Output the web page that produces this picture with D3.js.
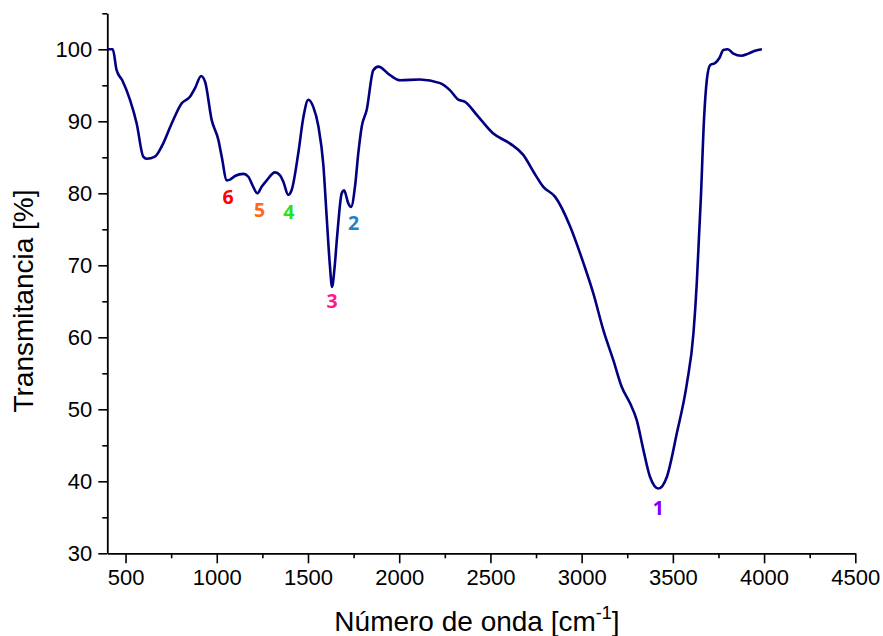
<!DOCTYPE html>
<html>
<head>
<meta charset="utf-8">
<script src="https://cdn.jsdelivr.net/npm/d3@7"></script>
<style>
  html, body { margin: 0; padding: 0; background: #ffffff; }
  svg { display: block; }
  text { font-family: "Liberation Sans", Arial, sans-serif; fill: #000; }
</style>
</head>
<body>
<svg id="chart" width="883" height="636"></svg>
<script>
// FTIR spectrum: wavenumber (cm-1) and transmittance (%)
const wavenumber = [
  400, 430, 451, 482, 524, 561, 597, 616, 661, 698, 753, 808, 853, 881, 914, 936,
  972, 1009, 1027, 1055, 1073, 1100, 1146, 1173, 1200, 1222, 1246, 1274, 1319, 1347,
  1365, 1392, 1411, 1447, 1475, 1502, 1529, 1557, 1584, 1603, 1620, 1632, 1645, 1661,
  1685, 1698, 1721, 1736, 1758, 1776, 1795, 1822, 1858, 1886, 1950, 2005, 2114, 2224,
  2279, 2324, 2361, 2425, 2516, 2608, 2681, 2736, 2790, 2855, 2937, 3010, 3064, 3119,
  3174, 3220, 3266, 3302, 3339, 3375, 3421, 3467, 3522, 3577, 3613, 3631, 3644, 3653,
  3671, 3686, 3704, 3732, 3755, 3777, 3801, 3832, 3874, 3914, 3951, 3988
];
const transmittance = [
  100.0, 100.0, 97.1, 95.7, 93.0, 89.7, 85.1, 84.8, 85.1, 86.5, 89.7, 92.5, 93.4, 94.6, 96.3, 95.5,
  90.2, 87.4, 85.1, 81.8, 81.9, 82.4, 82.7, 82.3, 80.9, 80.0, 80.9, 81.8, 82.9, 82.5,
  81.6, 79.8, 80.5, 85.6, 90.6, 93.0, 92.0, 89.3, 84.0, 76.5, 70.0, 67.0, 69.5, 74.4,
  80.0, 80.4, 78.6, 78.1, 81.0, 85.6, 89.3, 91.6, 97.1, 97.6, 96.4, 95.7, 95.8, 95.3,
  94.3, 93.0, 92.7, 90.9, 88.3, 86.9, 85.3, 83.0, 80.9, 79.5, 75.4, 70.3, 66.1, 61.0,
  56.8, 53.1, 50.8, 48.5, 44.3, 40.6, 39.0, 40.6, 46.7, 53.6, 60.6, 67.5, 74.4, 79.1,
  90.4, 95.7, 97.8, 98.1, 98.8, 99.9, 100.0, 99.4, 99.1, 99.4, 99.8, 100.0
];

// Numbered band labels, anchored in data units
const bandLabels = ["1", "2", "3", "4", "5", "6"];
const bandLabelX = [3420, 1750, 1632, 1395, 1235, 1062];
const bandLabelY = [35.3, 74.9, 64.1, 76.4, 76.7, 78.5];
const bandColors = ["#8000ff", "#1a86c8", "#ff1a8c", "#2ee01a", "#ff6a1a", "#ff0000"];

// Axis ticks
const xMajorTicks = [500, 1000, 1500, 2000, 2500, 3000, 3500, 4000, 4500];
const xMinorTicks = [750, 1250, 1750, 2250, 2750, 3250, 3750, 4250];
const yMajorTicks = [30, 40, 50, 60, 70, 80, 90, 100];
const yMinorTicks = [35, 45, 55, 65, 75, 85, 95, 105];

const svg = d3.select("#chart");
const plotLeft = 107.3, plotRight = 855.3, plotTop = 13.3, plotBottom = 553.3;

const x = d3.scaleLinear().domain([400, 4500]).range([plotLeft, plotRight]);
const y = d3.scaleLinear().domain([30, 105]).range([plotBottom, plotTop]);

// Minor ticks
svg.append("g")
  .attr("transform", `translate(0,${plotBottom})`)
  .call(d3.axisBottom(x).tickValues(xMinorTicks).tickSize(5).tickFormat(""))
  .call(g => g.select(".domain").remove())
  .call(g => g.selectAll("line").attr("stroke", "#000").attr("stroke-width", 1.6));
svg.append("g")
  .attr("transform", `translate(${plotLeft},0)`)
  .call(d3.axisLeft(y).tickValues(yMinorTicks).tickSize(5).tickFormat(""))
  .call(g => g.select(".domain").remove())
  .call(g => g.selectAll("line").attr("stroke", "#000").attr("stroke-width", 1.6));

// Major axes
const xAxis = svg.append("g")
  .attr("transform", `translate(0,${plotBottom})`)
  .call(d3.axisBottom(x).tickValues(xMajorTicks).tickSize(10).tickSizeOuter(0).tickPadding(6).tickFormat(d3.format("d")));
const yAxis = svg.append("g")
  .attr("transform", `translate(${plotLeft},0)`)
  .call(d3.axisLeft(y).tickValues(yMajorTicks).tickSize(9).tickSizeOuter(0).tickPadding(6).tickFormat(d3.format("d")));

[xAxis, yAxis].forEach(g => {
  g.select(".domain").attr("stroke", "#000").attr("stroke-width", 1.8);
  g.selectAll(".tick line").attr("stroke", "#000").attr("stroke-width", 1.6);
  g.selectAll(".tick text")
    .style("font-family", "'Liberation Sans', Arial, sans-serif")
    .style("font-size", "22px")
    .attr("fill", "#000");
});

// Spectrum line
const pts = wavenumber.map((w, i) => [w, transmittance[i]]);
svg.append("path")
  .datum(pts)
  .attr("fill", "none")
  .attr("stroke", "#000080")
  .attr("stroke-width", 2.6)
  .attr("stroke-linejoin", "round")
  .attr("d", d3.line().x(d => x(d[0])).y(d => y(d[1])).curve(d3.curveMonotoneX));

// Band numbers
svg.append("g").selectAll("text")
  .data(bandLabels)
  .join("text")
  .attr("x", (d, i) => x(bandLabelX[i]))
  .attr("y", (d, i) => y(bandLabelY[i]))
  .attr("text-anchor", "middle")
  .style("font-family", "'Open Sans', 'Noto Sans', sans-serif")
  .style("font-weight", "700")
  .style("font-size", "19.5px")
  .style("fill", (d, i) => bandColors[i])
  .text(d => d);

// Axis titles
const xTitle = svg.append("text")
  .attr("x", 477)
  .attr("y", 631)
  .attr("text-anchor", "middle")
  .style("font-size", "28px");
xTitle.append("tspan").text("Número de onda [cm");
xTitle.append("tspan").attr("dy", -12).style("font-size", "18px").text("-1");
xTitle.append("tspan").attr("dy", 12).text("]");

svg.append("text")
  .attr("transform", "translate(33,301) rotate(-90)")
  .attr("text-anchor", "middle")
  .style("font-size", "28px")
  .text("Transmitancia [%]");
</script>
</body>
</html>
